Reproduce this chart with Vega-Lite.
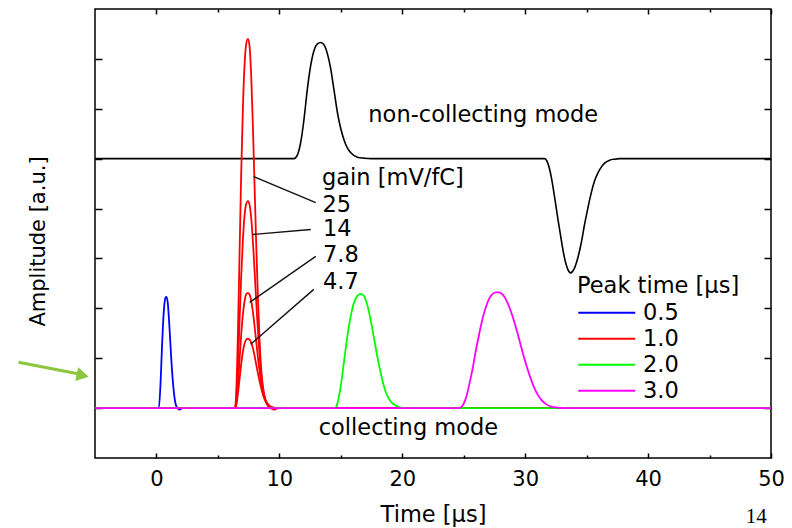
{
  "$schema": "https://vega.github.io/schema/vega-lite/v6.json",
  "width": 676,
  "height": 449,
  "autosize": {"type": "none"},
  "padding": {"left": 95, "top": 9, "right": 21, "bottom": 70},
  "background": "white",
  "config": {"view": {"stroke": "#000000", "strokeWidth": 1.5}, "font": "DejaVu Sans"},
  "datasets": {
    "curves": [
      {"t": -5, "v": 0, "s": "b", "pt": "0.5"}, {"t": 0.19, "v": 0, "s": "b", "pt": "0.5"}, {"t": 0.33, "v": 0.48, "s": "b", "pt": "0.5"}, {"t": 0.46, "v": 1.28, "s": "b", "pt": "0.5"}, {"t": 0.6, "v": 1.95, "s": "b", "pt": "0.5"}, {"t": 0.73, "v": 2.21, "s": "b", "pt": "0.5"}, {"t": 0.815, "v": 2.23, "s": "b", "pt": "0.5"}, {"t": 0.92, "v": 2.11, "s": "b", "pt": "0.5"}, {"t": 1.06, "v": 1.61, "s": "b", "pt": "0.5"}, {"t": 1.2, "v": 1.01, "s": "b", "pt": "0.5"}, {"t": 1.33, "v": 0.55, "s": "b", "pt": "0.5"}, {"t": 1.47, "v": 0.21, "s": "b", "pt": "0.5"}, {"t": 1.63, "v": 0.03, "s": "b", "pt": "0.5"}, {"t": 1.9, "v": -0.03, "s": "b", "pt": "0.5"}, {"t": 2.09, "v": 0, "s": "b", "pt": "0.5"}, {"t": 50, "v": 0, "s": "b", "pt": "0.5"},
      {"t": -5, "v": 0, "s": "r25", "pt": "1.0"}, {"t": 6.39, "v": 0, "s": "r25", "pt": "1.0"}, {"t": 6.485, "v": 0.28, "s": "r25", "pt": "1.0"}, {"t": 6.625, "v": 1.47, "s": "r25", "pt": "1.0"}, {"t": 6.76, "v": 3.09, "s": "r25", "pt": "1.0"}, {"t": 6.895, "v": 4.7, "s": "r25", "pt": "1.0"}, {"t": 7.03, "v": 5.99, "s": "r25", "pt": "1.0"}, {"t": 7.165, "v": 6.86, "s": "r25", "pt": "1.0"}, {"t": 7.3, "v": 7.29, "s": "r25", "pt": "1.0"}, {"t": 7.44, "v": 7.4, "s": "r25", "pt": "1.0"}, {"t": 7.575, "v": 7.25, "s": "r25", "pt": "1.0"}, {"t": 7.71, "v": 6.65, "s": "r25", "pt": "1.0"}, {"t": 7.845, "v": 5.67, "s": "r25", "pt": "1.0"}, {"t": 7.98, "v": 4.48, "s": "r25", "pt": "1.0"}, {"t": 8.115, "v": 3.3, "s": "r25", "pt": "1.0"}, {"t": 8.255, "v": 2.22, "s": "r25", "pt": "1.0"}, {"t": 8.39, "v": 1.36, "s": "r25", "pt": "1.0"}, {"t": 8.525, "v": 0.78, "s": "r25", "pt": "1.0"}, {"t": 8.66, "v": 0.43, "s": "r25", "pt": "1.0"}, {"t": 8.865, "v": 0.17, "s": "r25", "pt": "1.0"}, {"t": 9.07, "v": 0.04, "s": "r25", "pt": "1.0"}, {"t": 9.27, "v": 0, "s": "r25", "pt": "1.0"}, {"t": 9.55, "v": -0.03, "s": "r25", "pt": "1.0"}, {"t": 9.9, "v": 0, "s": "r25", "pt": "1.0"}, {"t": 50, "v": 0, "s": "r25", "pt": "1.0"},
      {"t": -5, "v": 0, "s": "r14", "pt": "1.0"}, {"t": 6.39, "v": 0, "s": "r14", "pt": "1.0"}, {"t": 6.485, "v": 0.16, "s": "r14", "pt": "1.0"}, {"t": 6.625, "v": 0.82, "s": "r14", "pt": "1.0"}, {"t": 6.76, "v": 1.73, "s": "r14", "pt": "1.0"}, {"t": 6.895, "v": 2.64, "s": "r14", "pt": "1.0"}, {"t": 7.03, "v": 3.36, "s": "r14", "pt": "1.0"}, {"t": 7.165, "v": 3.85, "s": "r14", "pt": "1.0"}, {"t": 7.3, "v": 4.09, "s": "r14", "pt": "1.0"}, {"t": 7.44, "v": 4.15, "s": "r14", "pt": "1.0"}, {"t": 7.589, "v": 4.06, "s": "r14", "pt": "1.0"}, {"t": 7.737, "v": 3.73, "s": "r14", "pt": "1.0"}, {"t": 7.886, "v": 3.18, "s": "r14", "pt": "1.0"}, {"t": 8.034, "v": 2.52, "s": "r14", "pt": "1.0"}, {"t": 8.183, "v": 1.85, "s": "r14", "pt": "1.0"}, {"t": 8.337, "v": 1.25, "s": "r14", "pt": "1.0"}, {"t": 8.485, "v": 0.76, "s": "r14", "pt": "1.0"}, {"t": 8.634, "v": 0.44, "s": "r14", "pt": "1.0"}, {"t": 8.782, "v": 0.24, "s": "r14", "pt": "1.0"}, {"t": 9.008, "v": 0.1, "s": "r14", "pt": "1.0"}, {"t": 9.233, "v": 0.03, "s": "r14", "pt": "1.0"}, {"t": 9.453, "v": 0, "s": "r14", "pt": "1.0"}, {"t": 50, "v": 0, "s": "r14", "pt": "1.0"},
      {"t": -5, "v": 0, "s": "r78", "pt": "1.0"}, {"t": 6.39, "v": 0, "s": "r78", "pt": "1.0"}, {"t": 6.485, "v": 0.09, "s": "r78", "pt": "1.0"}, {"t": 6.625, "v": 0.46, "s": "r78", "pt": "1.0"}, {"t": 6.76, "v": 0.96, "s": "r78", "pt": "1.0"}, {"t": 6.895, "v": 1.47, "s": "r78", "pt": "1.0"}, {"t": 7.03, "v": 1.87, "s": "r78", "pt": "1.0"}, {"t": 7.165, "v": 2.14, "s": "r78", "pt": "1.0"}, {"t": 7.3, "v": 2.28, "s": "r78", "pt": "1.0"}, {"t": 7.44, "v": 2.31, "s": "r78", "pt": "1.0"}, {"t": 7.602, "v": 2.26, "s": "r78", "pt": "1.0"}, {"t": 7.764, "v": 2.07, "s": "r78", "pt": "1.0"}, {"t": 7.926, "v": 1.77, "s": "r78", "pt": "1.0"}, {"t": 8.088, "v": 1.4, "s": "r78", "pt": "1.0"}, {"t": 8.25, "v": 1.03, "s": "r78", "pt": "1.0"}, {"t": 8.418, "v": 0.69, "s": "r78", "pt": "1.0"}, {"t": 8.58, "v": 0.43, "s": "r78", "pt": "1.0"}, {"t": 8.742, "v": 0.24, "s": "r78", "pt": "1.0"}, {"t": 8.904, "v": 0.13, "s": "r78", "pt": "1.0"}, {"t": 9.15, "v": 0.05, "s": "r78", "pt": "1.0"}, {"t": 9.396, "v": 0.01, "s": "r78", "pt": "1.0"}, {"t": 9.636, "v": 0, "s": "r78", "pt": "1.0"}, {"t": 50, "v": 0, "s": "r78", "pt": "1.0"},
      {"t": -5, "v": 0, "s": "r47", "pt": "1.0"}, {"t": 6.39, "v": 0, "s": "r47", "pt": "1.0"}, {"t": 6.485, "v": 0.05, "s": "r47", "pt": "1.0"}, {"t": 6.625, "v": 0.28, "s": "r47", "pt": "1.0"}, {"t": 6.76, "v": 0.58, "s": "r47", "pt": "1.0"}, {"t": 6.895, "v": 0.88, "s": "r47", "pt": "1.0"}, {"t": 7.03, "v": 1.13, "s": "r47", "pt": "1.0"}, {"t": 7.165, "v": 1.29, "s": "r47", "pt": "1.0"}, {"t": 7.3, "v": 1.37, "s": "r47", "pt": "1.0"}, {"t": 7.44, "v": 1.39, "s": "r47", "pt": "1.0"}, {"t": 7.616, "v": 1.36, "s": "r47", "pt": "1.0"}, {"t": 7.791, "v": 1.25, "s": "r47", "pt": "1.0"}, {"t": 7.967, "v": 1.07, "s": "r47", "pt": "1.0"}, {"t": 8.142, "v": 0.84, "s": "r47", "pt": "1.0"}, {"t": 8.318, "v": 0.62, "s": "r47", "pt": "1.0"}, {"t": 8.5, "v": 0.42, "s": "r47", "pt": "1.0"}, {"t": 8.675, "v": 0.26, "s": "r47", "pt": "1.0"}, {"t": 8.851, "v": 0.15, "s": "r47", "pt": "1.0"}, {"t": 9.026, "v": 0.08, "s": "r47", "pt": "1.0"}, {"t": 9.293, "v": 0.03, "s": "r47", "pt": "1.0"}, {"t": 9.559, "v": 0.01, "s": "r47", "pt": "1.0"}, {"t": 9.819, "v": 0, "s": "r47", "pt": "1.0"}, {"t": 50, "v": 0, "s": "r47", "pt": "1.0"},
      {"t": -5, "v": 0, "s": "g", "pt": "2.0"}, {"t": 14.53, "v": 0, "s": "g", "pt": "2.0"}, {"t": 14.72, "v": 0.09, "s": "g", "pt": "2.0"}, {"t": 15.0, "v": 0.45, "s": "g", "pt": "2.0"}, {"t": 15.27, "v": 0.95, "s": "g", "pt": "2.0"}, {"t": 15.54, "v": 1.45, "s": "g", "pt": "2.0"}, {"t": 15.81, "v": 1.85, "s": "g", "pt": "2.0"}, {"t": 16.08, "v": 2.12, "s": "g", "pt": "2.0"}, {"t": 16.35, "v": 2.25, "s": "g", "pt": "2.0"}, {"t": 16.63, "v": 2.29, "s": "g", "pt": "2.0"}, {"t": 16.9, "v": 2.24, "s": "g", "pt": "2.0"}, {"t": 17.17, "v": 2.05, "s": "g", "pt": "2.0"}, {"t": 17.44, "v": 1.75, "s": "g", "pt": "2.0"}, {"t": 17.71, "v": 1.39, "s": "g", "pt": "2.0"}, {"t": 17.98, "v": 1.02, "s": "g", "pt": "2.0"}, {"t": 18.26, "v": 0.69, "s": "g", "pt": "2.0"}, {"t": 18.53, "v": 0.42, "s": "g", "pt": "2.0"}, {"t": 18.8, "v": 0.24, "s": "g", "pt": "2.0"}, {"t": 19.07, "v": 0.13, "s": "g", "pt": "2.0"}, {"t": 19.48, "v": 0.05, "s": "g", "pt": "2.0"}, {"t": 19.89, "v": 0.01, "s": "g", "pt": "2.0"}, {"t": 20.29, "v": 0, "s": "g", "pt": "2.0"}, {"t": 50, "v": 0, "s": "g", "pt": "2.0"},
      {"t": -5, "v": 0, "s": "m", "pt": "3.0"}, {"t": 24.64, "v": 0, "s": "m", "pt": "3.0"}, {"t": 24.91, "v": 0.05, "s": "m", "pt": "3.0"}, {"t": 25.18, "v": 0.2, "s": "m", "pt": "3.0"}, {"t": 25.45, "v": 0.47, "s": "m", "pt": "3.0"}, {"t": 25.73, "v": 0.8, "s": "m", "pt": "3.0"}, {"t": 26.0, "v": 1.17, "s": "m", "pt": "3.0"}, {"t": 26.27, "v": 1.5, "s": "m", "pt": "3.0"}, {"t": 26.54, "v": 1.8, "s": "m", "pt": "3.0"}, {"t": 26.81, "v": 2.03, "s": "m", "pt": "3.0"}, {"t": 27.08, "v": 2.2, "s": "m", "pt": "3.0"}, {"t": 27.36, "v": 2.29, "s": "m", "pt": "3.0"}, {"t": 27.63, "v": 2.32, "s": "m", "pt": "3.0"}, {"t": 27.85, "v": 2.32, "s": "m", "pt": "3.0"}, {"t": 28.04, "v": 2.3, "s": "m", "pt": "3.0"}, {"t": 28.31, "v": 2.23, "s": "m", "pt": "3.0"}, {"t": 28.58, "v": 2.1, "s": "m", "pt": "3.0"}, {"t": 28.85, "v": 1.93, "s": "m", "pt": "3.0"}, {"t": 29.12, "v": 1.72, "s": "m", "pt": "3.0"}, {"t": 29.4, "v": 1.48, "s": "m", "pt": "3.0"}, {"t": 29.67, "v": 1.23, "s": "m", "pt": "3.0"}, {"t": 29.94, "v": 0.99, "s": "m", "pt": "3.0"}, {"t": 30.21, "v": 0.77, "s": "m", "pt": "3.0"}, {"t": 30.48, "v": 0.57, "s": "m", "pt": "3.0"}, {"t": 30.75, "v": 0.4, "s": "m", "pt": "3.0"}, {"t": 31.02, "v": 0.27, "s": "m", "pt": "3.0"}, {"t": 31.3, "v": 0.17, "s": "m", "pt": "3.0"}, {"t": 31.7, "v": 0.08, "s": "m", "pt": "3.0"}, {"t": 32.11, "v": 0.03, "s": "m", "pt": "3.0"}, {"t": 32.65, "v": 0.01, "s": "m", "pt": "3.0"}, {"t": 33.33, "v": 0, "s": "m", "pt": "3.0"}, {"t": 50, "v": 0, "s": "m", "pt": "3.0"}
    ],
    "black": [
      {"t": -5, "v": 5}, {"t": 11.19, "v": 5}, {"t": 11.46, "v": 5.07}, {"t": 11.74, "v": 5.33}, {"t": 12.01, "v": 5.8}, {"t": 12.28, "v": 6.4}, {"t": 12.55, "v": 6.87}, {"t": 12.82, "v": 7.17}, {"t": 13.09, "v": 7.3}, {"t": 13.37, "v": 7.33}, {"t": 13.64, "v": 7.28}, {"t": 13.91, "v": 7.1}, {"t": 14.18, "v": 6.8}, {"t": 14.45, "v": 6.37}, {"t": 14.72, "v": 5.93}, {"t": 15.0, "v": 5.6}, {"t": 15.27, "v": 5.37}, {"t": 15.54, "v": 5.21}, {"t": 15.81, "v": 5.12}, {"t": 16.35, "v": 5.03}, {"t": 16.9, "v": 5.01}, {"t": 17.44, "v": 5},
      {"t": 31.57, "v": 5}, {"t": 31.84, "v": 4.91}, {"t": 32.11, "v": 4.65}, {"t": 32.38, "v": 4.25}, {"t": 32.65, "v": 3.81}, {"t": 32.93, "v": 3.38}, {"t": 33.2, "v": 3.01}, {"t": 33.47, "v": 2.78}, {"t": 33.69, "v": 2.71}, {"t": 33.96, "v": 2.78}, {"t": 34.28, "v": 3.01}, {"t": 34.56, "v": 3.31}, {"t": 34.83, "v": 3.68}, {"t": 35.1, "v": 4.01}, {"t": 35.37, "v": 4.31}, {"t": 35.64, "v": 4.55}, {"t": 35.91, "v": 4.71}, {"t": 36.19, "v": 4.83}, {"t": 36.46, "v": 4.91}, {"t": 36.87, "v": 4.97}, {"t": 37.27, "v": 4.99}, {"t": 37.68, "v": 5}, {"t": 50, "v": 5}
    ],
    "leaders": [
      {"t": 7.91, "v": 4.64, "t2": 12.96, "v2": 4.12},
      {"t": 7.82, "v": 3.48, "t2": 12.55, "v2": 3.58},
      {"t": 7.58, "v": 2.12, "t2": 12.96, "v2": 3.04},
      {"t": 7.66, "v": 1.28, "t2": 12.8, "v2": 2.38}
    ],
    "notes": [
      {"t": 17.24, "v": 5.73, "label": "non-collecting mode"},
      {"t": 13.2, "v": -0.54, "label": "collecting mode"},
      {"t": 13.47, "v": 4.48, "label": "gain [mV/fC]"},
      {"t": 13.5, "v": 3.94, "label": "25"},
      {"t": 13.55, "v": 3.44, "label": "14"},
      {"t": 13.55, "v": 2.92, "label": "7.8"},
      {"t": 13.55, "v": 2.38, "label": "4.7"}
    ],
    "page": [{"t": 48.8, "v": -2.3, "label": "14"}],
    "arrowShaft": [{"t": -11.22, "v": 0.92, "t2": -6.4, "v2": 0.69}],
    "arrowHead": [{"t": -6.0, "v": 0.655}]
  },
  "layer": [
    {
      "data": {"name": "black"},
      "mark": {"type": "line", "color": "#000000", "strokeWidth": 1.6, "interpolate": "monotone"},
      "encoding": {
        "x": {"field": "t", "type": "quantitative", "scale": {"domain": [-5, 50], "nice": false, "zero": false},
          "axis": {"orient": "top", "values": [0, 5, 10, 15, 20, 25, 30, 35, 40, 45, 50], "labels": false, "domain": false, "grid": false, "title": null,
            "tickColor": "#000000", "tickWidth": 1.5, "tickSize": {"condition": {"test": "datum.value % 10 !== 0", "value": -3}, "value": -5}}},
        "y": {"field": "v", "type": "quantitative", "scale": {"domain": [-1, 8], "nice": false, "zero": false},
          "axis": {"orient": "right", "values": [0, 1, 2, 3, 4, 5, 6, 7], "labels": false, "domain": false, "grid": false, "title": null,
            "tickColor": "#000000", "tickWidth": 1.5, "tickSize": -7}}
      }
    },
    {
      "data": {"name": "curves"},
      "mark": {"type": "line", "strokeWidth": 1.8, "interpolate": "monotone"},
      "encoding": {
        "x": {"field": "t", "type": "quantitative", "scale": {"domain": [-5, 50], "nice": false, "zero": false},
          "axis": {"orient": "bottom", "values": [0, 5, 10, 15, 20, 25, 30, 35, 40, 45, 50], "domain": false, "grid": false,
            "labelExpr": "datum.value % 10 === 0 ? datum.label : ''", "labelFlush": false, "labelOverlap": false,
            "labelFont": "DejaVu Sans", "labelFontSize": 21, "labelColor": "#000000", "labelPadding": 15,
            "tickColor": "#000000", "tickWidth": 1.5, "tickSize": {"condition": {"test": "datum.value % 10 !== 0", "value": -3}, "value": -5},
            "title": "Time [µs]", "titleFont": "DejaVu Sans", "titleFontSize": 22.5, "titleFontWeight": "normal", "titleColor": "#000000", "titlePadding": 12}},
        "y": {"field": "v", "type": "quantitative", "scale": {"domain": [-1, 8], "nice": false, "zero": false},
          "axis": {"orient": "left", "values": [0, 1, 2, 3, 4, 5, 6, 7], "labels": false, "domain": false, "grid": false,
            "tickColor": "#000000", "tickWidth": 1.5, "tickSize": -7,
            "title": "Amplitude [a.u.]", "titleFont": "DejaVu Sans", "titleFontSize": 21, "titleFontWeight": "normal", "titleColor": "#000000", "titlePadding": 46, "titleY": 232}},
        "color": {"field": "pt", "type": "nominal",
          "scale": {"domain": ["0.5", "1.0", "2.0", "3.0"], "range": ["#0000ff", "#ff0000", "#00ff00", "#ff00ff"]},
          "legend": {"title": "Peak time [µs]", "orient": "none", "legendX": 482, "legendY": 266, "padding": 0,
            "symbolType": "M-6,0H6", "symbolSize": 90.25, "symbolStrokeWidth": 2, "symbolOffset": 18.5,
            "labelFont": "DejaVu Sans", "labelFontSize": 22.5, "labelColor": "#000000", "labelOffset": 25,
            "titleFont": "DejaVu Sans", "titleFontSize": 22.5, "titleFontWeight": "normal", "titleColor": "#000000", "titlePadding": 4, "rowPadding": 3}},
        "detail": {"field": "s"}
      }
    },
    {
      "data": {"name": "leaders"},
      "mark": {"type": "rule", "color": "#111111", "strokeWidth": 1.4},
      "encoding": {
        "x": {"field": "t", "type": "quantitative", "scale": {"domain": [-5, 50], "nice": false, "zero": false}, "axis": null},
        "y": {"field": "v", "type": "quantitative", "scale": {"domain": [-1, 8], "nice": false, "zero": false}, "axis": null},
        "x2": {"field": "t2"},
        "y2": {"field": "v2"}
      }
    },
    {
      "data": {"name": "notes"},
      "mark": {"type": "text", "align": "left", "baseline": "alphabetic", "font": "DejaVu Sans", "fontSize": 22.5, "color": "#000000"},
      "encoding": {
        "x": {"field": "t", "type": "quantitative", "scale": {"domain": [-5, 50], "nice": false, "zero": false}, "axis": null},
        "y": {"field": "v", "type": "quantitative", "scale": {"domain": [-1, 8], "nice": false, "zero": false}, "axis": null},
        "text": {"field": "label"}
      }
    },
    {
      "data": {"name": "page"},
      "mark": {"type": "text", "align": "center", "baseline": "alphabetic", "font": "Liberation Serif", "fontSize": 21, "color": "#000000"},
      "encoding": {
        "x": {"field": "t", "type": "quantitative", "scale": {"domain": [-5, 50], "nice": false, "zero": false}, "axis": null},
        "y": {"field": "v", "type": "quantitative", "scale": {"domain": [-1, 8], "nice": false, "zero": false}, "axis": null},
        "text": {"field": "label"}
      }
    },
    {
      "data": {"name": "arrowShaft"},
      "mark": {"type": "rule", "color": "#8cc63f", "strokeWidth": 3},
      "encoding": {
        "x": {"field": "t", "type": "quantitative", "scale": {"domain": [-5, 50], "nice": false, "zero": false}, "axis": null},
        "y": {"field": "v", "type": "quantitative", "scale": {"domain": [-1, 8], "nice": false, "zero": false}, "axis": null},
        "x2": {"field": "t2"},
        "y2": {"field": "v2"}
      }
    },
    {
      "data": {"name": "arrowHead"},
      "mark": {"type": "point", "shape": "triangle-right", "filled": true, "color": "#8cc63f", "size": 200, "angle": 12, "opacity": 1},
      "encoding": {
        "x": {"field": "t", "type": "quantitative", "scale": {"domain": [-5, 50], "nice": false, "zero": false}, "axis": null},
        "y": {"field": "v", "type": "quantitative", "scale": {"domain": [-1, 8], "nice": false, "zero": false}, "axis": null}
      }
    }
  ],
  "resolve": {"axis": {"x": "independent", "y": "independent"}}
}
